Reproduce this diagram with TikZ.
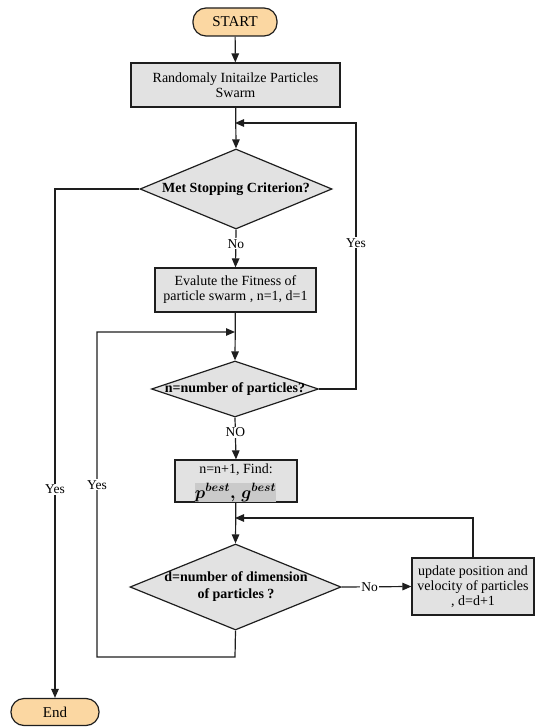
\documentclass[tikz,border=0pt]{standalone}
\usepackage{fontspec}
\setmainfont{Liberation Serif}
\usepackage{amsmath}
\usepackage{bm}
\usetikzlibrary{arrows.meta,shapes.geometric,calc}

\definecolor{boxgray}{HTML}{E2E2E2}
\definecolor{termfill}{HTML}{FBD7A2}
\definecolor{linecol}{HTML}{1E1E1E}
\definecolor{hlgray}{HTML}{CACACA}

\tikzset{
  base/.style={draw=linecol, line width=1.2pt},
  term/.style={base, fill=termfill, rounded corners=13pt, inner sep=0pt,
    font=\fontsize{15}{17}\selectfont},
  procbox/.style={base, fill=boxgray, inner sep=0pt, align=center,
    font=\fontsize{14}{15}\selectfont},
  decision/.style={base, fill=boxgray, diamond, inner sep=0pt},
  dtext/.style={font=\bfseries\fontsize{14}{17}\selectfont, align=center, inner sep=0pt},
  conn/.style={draw=linecol, line width=1.2pt},
  arr/.style={conn, -{Triangle[length=9pt,width=7.5pt]}},
  lbl/.style={fill=white, inner sep=1pt, font=\fontsize{13.5}{15}\selectfont}
}

\begin{document}
\begin{tikzpicture}[x=1pt, y=-1pt]
  \useasboundingbox (0,0) rectangle (535,727);

  % terminals
  \node[term, minimum width=84pt, minimum height=28pt] (start) at (235,22) {START};
  \node[term, minimum width=88pt, minimum height=27pt] (stop) at (55,712) {End};

  % process boxes
  \node[procbox, minimum width=209pt, minimum height=44pt] (init) at (235.5,85)
    {Randomaly Initailze Particles\\Swarm};
  \node[procbox, minimum width=161pt, minimum height=44pt] (fit) at (235.5,290)
    {Evalute the Fitness of\\particle swarm , n=1, d=1};
  \node[procbox, minimum width=122pt, minimum height=42pt] (find) at (236,481) {};
  \node[font=\fontsize{14}{15}\selectfont, inner sep=0pt] (findtxt) at (236,470) {n=n+1, Find:};
  \node[fill=hlgray, inner sep=0pt, minimum width=81pt, minimum height=19pt] (best) at (235.5,492.5)
    {\fontsize{17}{19}\selectfont$\bm{p^{best}}\bm{,}\,\bm{g^{best}}$};
  \node[procbox, minimum width=122pt, minimum height=57pt] (upd) at (473,586.5)
    {update position and\\velocity of particles\\, d=d+1};

  % decisions
  \node[decision, minimum width=192pt, minimum height=80pt] (d1) at (236,189) {};
  \node[dtext] at (d1.center) {Met Stopping Criterion?};
  \node[decision, minimum width=167pt, minimum height=56pt] (d2) at (235,389) {};
  \node[dtext] at (d2.center) {n=number of particles?};
  \node[decision, minimum width=211pt, minimum height=86pt] (d3) at (235.5,587) {};
  \node[dtext] at (236,587) {d=number of dimension\\of particles ?};

  % junction points
  \coordinate (m1) at (235,123);
  \coordinate (m2) at (235,332);
  \coordinate (m3) at (235,518);

  % main flow
  \draw[arr] (start) -- (init);
  \draw[arr] (init) -- (d1.north);
  \draw[arr] (d1.south) -- node[lbl, pos=0.38] {No} (fit.north);
  \draw[arr] (fit) -- (d2.north);
  \draw[arr] (d2.south) -- node[lbl, pos=0.35] {NO} (find.north);
  \draw[arr] (find) -- (d3.north);
  \draw[arr] (d3.east) -- node[lbl, pos=0.4] {No} (upd.west);

  % loops
  \draw[arr] (d2.east) -- (356,389) -- node[lbl, pos=0.55] {Yes} (356,123) -- (m1);
  \draw[arr] (upd.north) -- (upd.north |- m3) -- (m3);
  \draw[arr] (d3.south) -- (235,657) -- (97,657) -- node[lbl, pos=0.53] {Yes} (97,332) -- (m2);
  \draw[arr] (d1.west) -- (55,189) -- node[lbl, pos=0.59] {Yes} (stop.north);
\end{tikzpicture}
\end{document}
